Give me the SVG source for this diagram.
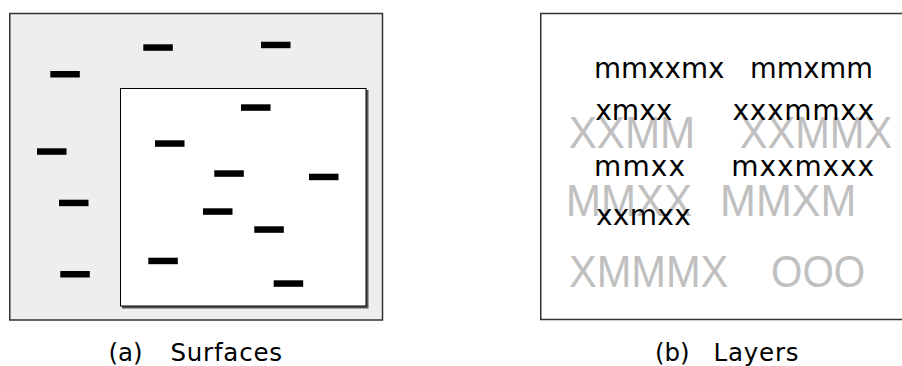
<svg xmlns="http://www.w3.org/2000/svg" width="902" height="366" viewBox="0 0 902 366">
<style>
.frame{stroke:#333;stroke-width:1.5}
.dash{fill:#000}
.blk{font-family:"DejaVu Sans",Verdana,sans-serif;font-size:28px;fill:#000}
.gry{font-family:"Liberation Sans",Arial,sans-serif;font-size:43.5px;fill:#c0c0c0}
.cap{font-family:"DejaVu Sans",Verdana,sans-serif;font-size:24.5px;fill:#000}
</style>
<defs>
<rect id="d" width="29.5" height="6.5" class="dash"/>
</defs>
<g id="panel-a">
<rect x="9.75" y="13.5" width="372.75" height="306.5" fill="#eeeeee" class="frame"/>
<rect x="122" y="90" width="246.5" height="218.5" fill="#555"/>
<rect x="120.5" y="88.5" width="245.5" height="217.5" fill="#fff" stroke="#000" stroke-width="1"/>
<use href="#d" x="143.3" y="44.3"/>
<use href="#d" x="261" y="41.7"/>
<use href="#d" x="50.3" y="71"/>
<use href="#d" x="37" y="148.3"/>
<use href="#d" x="59" y="199.7"/>
<use href="#d" x="60.3" y="271"/>
<use href="#d" x="241" y="104.3"/>
<use href="#d" x="155" y="140.3"/>
<use href="#d" x="214.3" y="170.3"/>
<use href="#d" x="309" y="173.7"/>
<use href="#d" x="203" y="208.3"/>
<use href="#d" x="254.3" y="226.3"/>
<use href="#d" x="148.3" y="257.7"/>
<use href="#d" x="273.7" y="280.3"/>
</g>
<g id="panel-b">
<rect x="540.75" y="13.5" width="380" height="306" fill="#fff" class="frame"/>
<text class="gry" x="568.7" y="148.3" textLength="126.5" lengthAdjust="spacingAndGlyphs">XXMM</text>
<text class="gry" x="739.7" y="148.3" textLength="152.6" lengthAdjust="spacingAndGlyphs">XXMMX</text>
<text class="gry" x="566" y="215.5" textLength="125.9" lengthAdjust="spacingAndGlyphs">MMXX</text>
<text class="gry" x="720.1" y="215.5" textLength="136.4" lengthAdjust="spacingAndGlyphs">MMXM</text>
<text class="gry" x="569" y="286.5" textLength="159.3" lengthAdjust="spacingAndGlyphs">XMMMX</text>
<text class="gry" x="771" y="286.5" textLength="94.2" lengthAdjust="spacingAndGlyphs">OOO</text>
<text class="blk" x="594" y="78" textLength="130.5" lengthAdjust="spacingAndGlyphs">mmxxmx</text>
<text class="blk" x="750" y="78" textLength="122.8" lengthAdjust="spacingAndGlyphs">mmxmm</text>
<text class="blk" x="595.2" y="120" textLength="77.3" lengthAdjust="spacingAndGlyphs">xmxx</text>
<text class="blk" x="732.5" y="120" textLength="141.6" lengthAdjust="spacing">xxxmmxx</text>
<text class="blk" x="594" y="176" textLength="91" lengthAdjust="spacing">mmxx</text>
<text class="blk" x="731.3" y="176" textLength="142.8" lengthAdjust="spacing">mxxmxxx</text>
<text class="blk" x="595.9" y="225" textLength="94.9" lengthAdjust="spacing">xxmxx</text>
</g>
<g id="captions">
<text class="cap" x="108.5" y="361">(a)<tspan x="170.5" textLength="111.5" lengthAdjust="spacing">Surfaces</tspan></text>
<text class="cap" x="655" y="361">(b)<tspan x="713.5" textLength="85" lengthAdjust="spacing">Layers</tspan></text>
</g>
</svg>
